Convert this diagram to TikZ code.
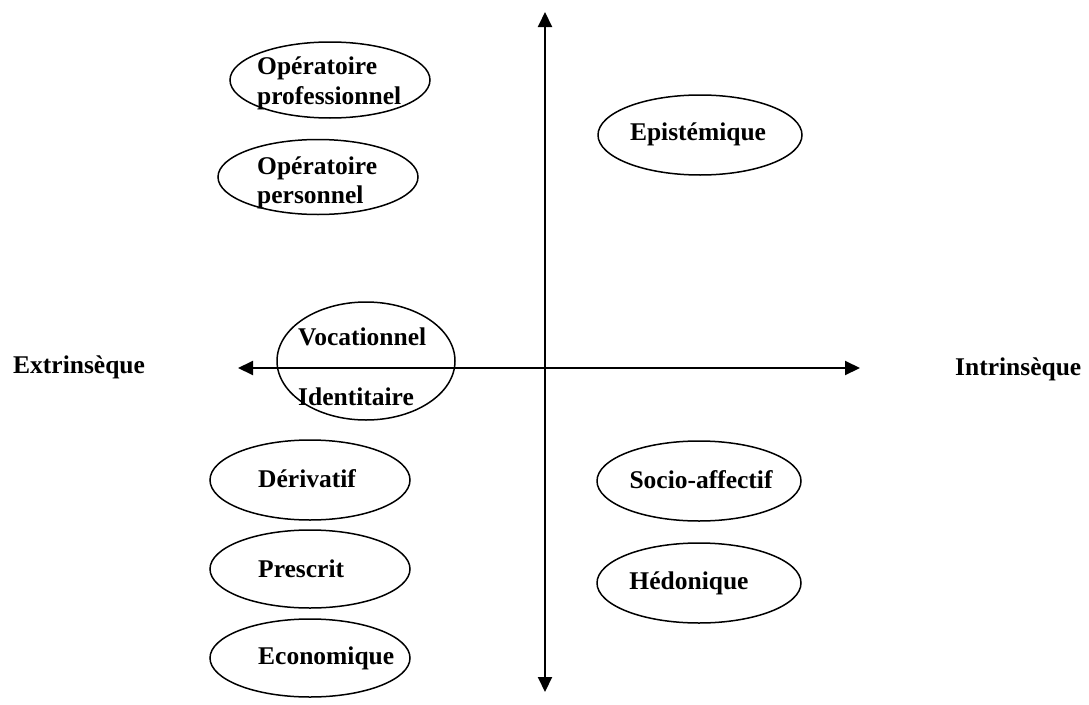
\documentclass[tikz,border=0pt]{standalone}
\usepackage{fontspec}
\setmainfont{Liberation Serif}
\usetikzlibrary{arrows.meta,shapes.geometric}
\begin{document}
\begin{tikzpicture}[x=1pt,y=-1pt,
  oval/.style={draw=black,line width=1.5pt,ellipse,minimum width=2*#1,inner sep=0pt},
  lbl/.style={font=\fontsize{25.5}{30}\selectfont\bfseries,inner sep=0pt,align=left},
  axis/.style={line width=2pt,-{Triangle[length=15pt,width=14pt]}}]
\useasboundingbox (0,0) rectangle (1089,704);
% axes
\coordinate (c) at (545,368);
\coordinate (top) at (545,12);
\coordinate (bot) at (545,692);
\coordinate (lft) at (238,368);
\coordinate (rgt) at (860,368);
\draw[axis] (c) -- (top);
\draw[axis] (c) -- (bot);
\draw[axis] (c) -- (lft);
\draw[axis] (c) -- (rgt);
% ellipses
\node[oval=100pt,minimum height=76pt] (e1) at (330,80) {};
\node[oval=100pt,minimum height=75pt] (e2) at (318,177) {};
\node[oval=89pt,minimum height=118pt] (e3) at (366,361) {};
\node[oval=100pt,minimum height=80pt] (e4) at (310,480) {};
\node[oval=100pt,minimum height=78pt] (e5) at (310,569) {};
\node[oval=100pt,minimum height=78pt] (e6) at (310,658) {};
\node[oval=102pt,minimum height=80pt] (e7) at (700,135) {};
\node[oval=102pt,minimum height=80pt] (e8) at (699,481) {};
\node[oval=102pt,minimum height=80pt] (e9) at (699,583) {};
% texts
\node[lbl,anchor=west] (t1) at (257,68) {Opératoire};
\node[lbl,anchor=west] (t1b) at (257,98) {professionnel};
\node[lbl,anchor=west] (t2) at (257,168) {Opératoire};
\node[lbl,anchor=west] (t2b) at (257,197) {personnel};
\node[lbl,anchor=west] (t3) at (298,337) {Vocationnel};
\node[lbl,anchor=west] (t3b) at (298,397) {Identitaire};
\node[lbl,anchor=west] (t4) at (258,479) {Dérivatif};
\node[lbl,anchor=west] (t5) at (258,569) {Prescrit};
\node[lbl,anchor=west] (t6) at (258,658) {Economique};
\node[lbl] (t7) at (698,134) {Epistémique};
\node[lbl] (t8) at (701,480) {Socio-affectif};
\node[lbl] (t9) at (689,583) {Hédonique};
\node[lbl,anchor=west] (ext) at (13,367) {Extrinsèque};
\node[lbl,anchor=west] (int) at (955,369) {Intrinsèque};
\end{tikzpicture}
\end{document}
